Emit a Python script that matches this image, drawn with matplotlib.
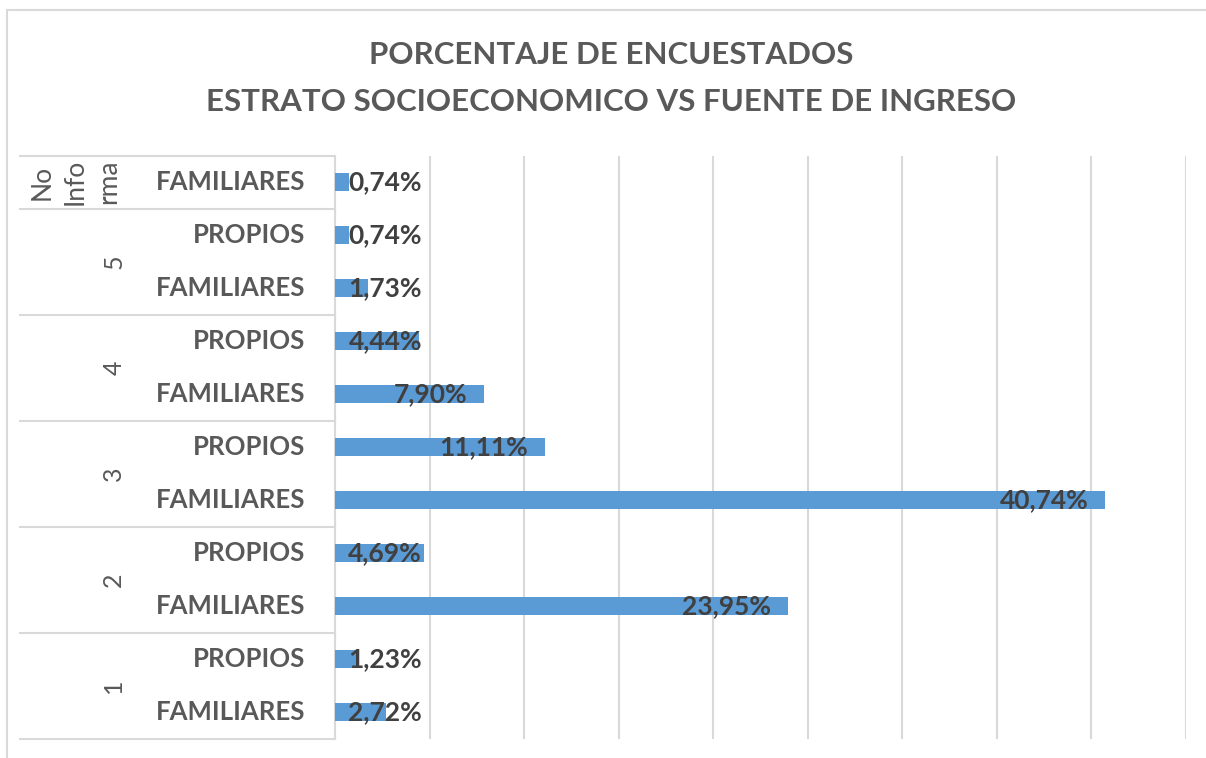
import matplotlib
matplotlib.use('Agg')
import matplotlib.pyplot as plt
from matplotlib.patches import Rectangle

# datos: de abajo hacia arriba
estratos = ['1', '1', '2', '2', '3', '3', '4', '4', '5', '5', 'No Informa']
fuentes = ['FAMILIARES', 'PROPIOS', 'FAMILIARES', 'PROPIOS', 'FAMILIARES', 'PROPIOS',
           'FAMILIARES', 'PROPIOS', 'FAMILIARES', 'PROPIOS', 'FAMILIARES']
porcentajes = [2.72, 1.23, 23.95, 4.69, 40.74, 11.11, 7.90, 4.44, 1.73, 0.74, 0.74]

grupos = ['1', '2', '3', '4', '5', 'No\nInfo\nrma']
grupo_idx = [(0, 1), (2, 3), (4, 5), (6, 7), (8, 9), (10, 10)]

plt.rcParams['font.family'] = ['Lato', 'DejaVu Sans']
gris = '#595959'
azul = '#5b9bd5'
linea = '#d9d9d9'

fig = plt.figure(figsize=(12.06, 7.58), dpi=100)
ax = fig.add_axes([335 / 1206, 19.5 / 758, 851 / 1206, 583 / 758])

y = list(range(len(porcentajes)))
ax.barh(y, porcentajes, height=0.35, color=azul, zorder=3)
ax.set_xlim(0, 45)
ax.set_ylim(-0.5, len(porcentajes) - 0.5)
ax.set_xticks(range(0, 50, 5))
ax.xaxis.grid(True, color=linea, linewidth=1.5, zorder=0)
ax.tick_params(left=False, bottom=False, labelbottom=False, labelleft=False)
for s in ['top', 'right', 'bottom']:
    ax.spines[s].set_visible(False)
ax.spines['left'].set_color(linea)
ax.spines['left'].set_linewidth(1.5)

# etiquetas de datos
for yi, v in zip(y, porcentajes):
    xt = max(v - 0.9, 4.6)
    ax.text(xt, yi, f'{v:.2f}%'.replace('.', ','), ha='right', va='center',
            fontsize=19, fontweight='bold', color='#404040', zorder=4)

# etiquetas de categoria
yt = ax.get_yaxis_transform()
for yi, f in zip(y, fuentes):
    ax.text(-0.035, yi, f, transform=yt, ha='right', va='center',
            fontsize=18.5, fontweight='bold', color=gris)

for g, (a, b) in zip(grupos, grupo_idx):
    if a != b:
        ax.text(-0.26, (a + b) / 2, g, transform=yt, ha='center', va='center',
                rotation=90, fontsize=18, color=gris)
    else:
        ax.text(-0.305, a, g, transform=yt, ha='center', va='center',
                rotation=90, fontsize=19, color=gris, linespacing=1.4,
                multialignment='center')

# lineas separadoras
limites = [-0.5] + [b + 0.5 for a, b in grupo_idx]
for lim in limites:
    ax.plot([-0.37, 0], [lim, lim], transform=yt, color=linea, lw=1.5,
            clip_on=False, zorder=1)

# marco exterior
fig.add_artist(Rectangle((7 / 1206, -0.05), 1.1, (758 - 10) / 758 + 0.05,
                         transform=fig.transFigure, fill=False,
                         edgecolor=linea, linewidth=1.5))

fig.text(0.507, 1 - 55 / 758, 'PORCENTAJE DE ENCUESTADOS', ha='center', va='center',
         fontsize=22.5, fontweight='bold', color=gris)
fig.text(0.507, 1 - 102 / 758, 'ESTRATO SOCIOECONOMICO VS FUENTE DE INGRESO',
         ha='center', va='center', fontsize=22.5, fontweight='bold', color=gris)

fig.savefig('out.png', dpi=100)
